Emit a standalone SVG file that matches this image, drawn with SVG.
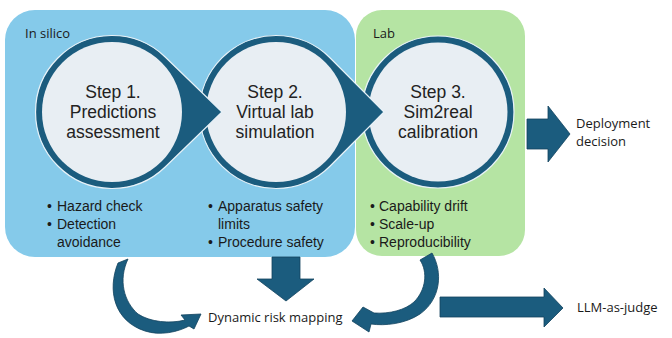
<svg xmlns="http://www.w3.org/2000/svg" width="672" height="338" viewBox="0 0 672 338">
<style>
  .lbl{font-family:"Open Sans","Liberation Sans",sans-serif;font-size:13px;fill:#1a1a1a}
  .step{font-family:"Liberation Sans",Arial,sans-serif;font-size:17.5px;fill:#222222;text-anchor:middle}
  .bul{font-family:"Liberation Sans",Arial,sans-serif;font-size:14px;fill:#1a1a1a}
  .out{font-family:"Open Sans","Liberation Sans",sans-serif;font-size:13px;fill:#1a1a1a}
  .ring{fill:#1b5c7e;stroke:#e8f2f8;stroke-width:1.2}
  .inner{fill:#e8eef3}
  .conn{fill:#1b5c7e;stroke:#12435e;stroke-width:0.8}
</style>
<rect width="672" height="338" fill="#ffffff"/>
<g id="insilico">
  <rect x="5" y="10" width="350" height="247" rx="30" ry="30" fill="#85caea"/>
  <text class="lbl" x="25" y="38">In silico</text>
</g>
<g id="lab">
  <rect x="356" y="10" width="169" height="246" rx="26" ry="26" fill="#b5e4a3"/>
  <text class="lbl" x="373" y="38">Lab</text>
</g>
<g id="step3">
  <circle class="ring" cx="438" cy="112" r="76"/>
  <circle class="inner" cx="438" cy="112" r="69.5"/>
  <text class="step" x="438" y="98">Step 3.</text>
  <text class="step" x="438" y="118">Sim2real</text>
  <text class="step" x="438" y="138">calibration</text>
</g>
<g id="step2">
  <path class="ring" d="M330.2,58 L384,112 L330.2,166 A76.5,76.5 0 1 1 330.2,58 Z"/>
  <circle class="inner" cx="276" cy="112" r="70"/>
  <text class="step" x="275" y="98">Step 2.</text>
  <text class="step" x="275" y="118">Virtual lab</text>
  <text class="step" x="275" y="138">simulation</text>
</g>
<g id="step1">
  <path class="ring" d="M165.2,57 L222,112 L165.2,167 A76.5,76.5 0 1 1 165.2,57 Z"/>
  <circle class="inner" cx="112" cy="112" r="70"/>
  <text class="step" x="113" y="98">Step 1.</text>
  <text class="step" x="113" y="118">Predictions</text>
  <text class="step" x="113" y="138">assessment</text>
</g>
<g id="bullets1">
  <text class="bul" x="47" y="211">•</text><text class="bul" x="57" y="211">Hazard check</text>
  <text class="bul" x="47" y="229">•</text><text class="bul" x="57" y="229">Detection</text>
  <text class="bul" x="57" y="247">avoidance</text>
</g>
<g id="bullets2">
  <text class="bul" x="208" y="211">•</text><text class="bul" x="218" y="211">Apparatus safety</text>
  <text class="bul" x="218" y="229">limits</text>
  <text class="bul" x="208" y="247">•</text><text class="bul" x="218" y="247">Procedure safety</text>
</g>
<g id="bullets3">
  <text class="bul" x="370" y="211">•</text><text class="bul" x="379" y="211">Capability drift</text>
  <text class="bul" x="370" y="229">•</text><text class="bul" x="379" y="229">Scale-up</text>
  <text class="bul" x="370" y="247">•</text><text class="bul" x="379" y="247">Reproducibility</text>
</g>
<g id="deployment">
  <text class="out" x="576" y="128">Deployment</text>
  <text class="out" x="576" y="146">decision</text>
</g>
<g id="riskmap">
  <text class="out" x="208" y="322">Dynamic risk mapping</text>
</g>
<g id="llmjudge">
  <text class="out" x="577" y="312">LLM-as-judge</text>
</g>
<g id="connectors">
  <path class="conn" d="M272,257 L300,257 L300,279 L314,279 L286,301 L257,279 L272,279 Z"/>
  <path class="conn" d="M527,119 L548,119 L548,106 L570,134 L548,162 L548,149 L527,149 Z"/>
  <path class="conn" d="M440,297 L544,297 L544,288 L563,308 L544,327 L544,317 L440,317 Z"/>
  <path class="conn" d="M118,263 C107,290 114,321 145,331 C160,336 178,332 189,326 L194,329 L201,314 L181,315 L185,320 C170,324 150,322 138,314 C124,302 118,280 128,259 Z"/>
  <path class="conn" d="M432,253 C443,272 441,299 420,314 C405,324 385,326 371,324 L369,332 L352,321 L363,307 L374,313 C390,314 405,310 414,302 C426,290 428,272 420,260 Z"/>
</g>
</svg>
